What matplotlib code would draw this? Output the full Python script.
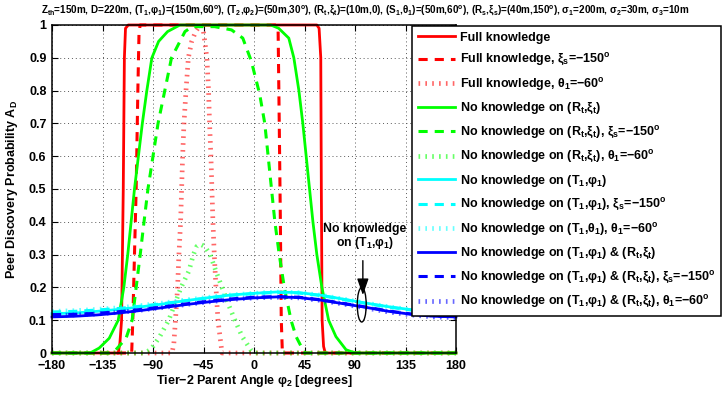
import matplotlib
matplotlib.use("Agg")
import matplotlib.pyplot as plt
from matplotlib.patches import Ellipse

plt.rcParams['font.family'] = ['Liberation Sans', 'DejaVu Sans']
plt.rcParams['font.weight'] = 'bold'
plt.rcParams['mathtext.fontset'] = 'custom'
plt.rcParams['mathtext.rm'] = 'Liberation Sans:bold'
plt.rcParams['mathtext.it'] = 'Liberation Sans:bold'
plt.rcParams['mathtext.bf'] = 'Liberation Sans:bold'
plt.rcParams['mathtext.sf'] = 'Liberation Sans:bold'
plt.rcParams['axes.unicode_minus'] = True

# ---------------- data ----------------
# Full knowledge
fk_x = [-180, -121, -119.5, -118, -116.5, -115.5, -114.5, -112, 56, 58, 59.5, 60, 60.7, 62, 63.5, 180]
fk_y = [0, 0, 0.03, 0.1, 0.5, 0.9, 0.99, 1, 1, 0.99, 0.9, 0.5, 0.1, 0.02, 0, 0]
# Full knowledge, xi_s = -150
fkx_x = [-180, -109, -108, -106.5, -105, -103.5, -102.5, -101.5, 19.5, 21.5, 22.5, 23.5, 24.3, 25.3, 180]
fkx_y = [0, 0, 0.1, 0.3, 0.5, 0.8, 0.97, 1, 1, 0.98, 0.7, 0.4, 0.1, 0, 0]
# Full knowledge, theta_1 = -60
fkt_x = [-180, -73, -71.4, -70, -68.1, -66.9, -65.4, -64.5, -63.6, -62.4, -60.6, -58.5, -55.5, -52,
         -48, -45, -42, -40.5, -39.6, -38.4, -37.5, -36.6, -35.4, -33.9, -32.1, -28.5, 180]
fkt_y = [0, 0, 0.03, 0.1, 0.2, 0.3, 0.4, 0.5, 0.6, 0.7, 0.8, 0.9, 0.95, 0.98,
         1.0, 0.98, 0.9, 0.8, 0.7, 0.6, 0.5, 0.4, 0.3, 0.2, 0.1, 0, 0]
# No knowledge on (Rt, xi_t)
nr_x = [-180, -146, -138, -129, -121, -116, -112.5, -109.5, -106.5, -103, -99.5, -95.5, -91, -85,
        -77, -66, 15, 22, 31, 35.5, 40, 43.5, 46.5, 49.5, 52.5, 56, 60.5, 66.5, 73, 82, 90, 180]
nr_y = [0, 0, 0.015, 0.045, 0.1, 0.2, 0.3, 0.4, 0.5, 0.6, 0.7, 0.8, 0.9, 0.95,
        0.98, 1.0, 1.0, 0.99, 0.96, 0.9, 0.8, 0.7, 0.6, 0.5, 0.4, 0.3, 0.2, 0.1, 0.05, 0.01, 0, 0]
# No knowledge on (Rt, xi_t), xi_s = -150
nrx_x = [-180, -129, -123, -114, -108.6, -105, -101.4, -98, -94.5, -90, -85.5, -79.5, -73.5, -67.5,
         -61.5, -55, -35, -20, -10, -2.4, 5, 9.6, 12.6, 15.6, 18.6, 22.5, 27, 33, 37.5, 45, 180]
nrx_y = [0, 0, 0.01, 0.045, 0.1, 0.2, 0.3, 0.4, 0.5, 0.6, 0.7, 0.8, 0.9, 0.94,
         0.98, 0.995, 0.995, 0.985, 0.96, 0.89, 0.79, 0.7, 0.6, 0.5, 0.4, 0.3, 0.2, 0.1, 0.05, 0, 0]
# No knowledge on (Rt, xi_t), theta_1 = -60
nrt_x = [-180, -98, -92, -84, -76, -65, -58, -54, -51, -48, -44, -39, -34, -28.5, -23, -17, -10.5, -3, 0, 180]
nrt_y = [0, 0, 0.01, 0.05, 0.1, 0.2, 0.25, 0.3, 0.325, 0.332, 0.325, 0.3, 0.25, 0.2, 0.15, 0.1, 0.05, 0.01, 0, 0]

# Low curves (no knowledge on T1, phi1 ...)
low_x = [-180, -160, -140, -120, -100, -80, -60, -40, -20, 0, 20, 40, 60, 80, 100, 120, 140, 160, 180]
nt_y = [0.120, 0.122, 0.127, 0.133, 0.141, 0.150, 0.160, 0.169, 0.177, 0.182, 0.186, 0.184, 0.176,
        0.164, 0.152, 0.141, 0.132, 0.125, 0.121]
ntx_y = [0.125, 0.127, 0.131, 0.136, 0.143, 0.151, 0.160, 0.168, 0.176, 0.181, 0.185, 0.183, 0.175,
         0.163, 0.151, 0.140, 0.131, 0.124, 0.120]
ntt_y = [0.127, 0.129, 0.133, 0.138, 0.145, 0.153, 0.162, 0.170, 0.177, 0.182, 0.186, 0.184, 0.176,
         0.164, 0.152, 0.141, 0.132, 0.125, 0.121]
nb_y = [0.110, 0.112, 0.116, 0.122, 0.130, 0.139, 0.148, 0.156, 0.163, 0.168, 0.171, 0.169, 0.161,
        0.150, 0.139, 0.127, 0.118, 0.112, 0.110]
nbx_y = [0.117, 0.118, 0.121, 0.126, 0.133, 0.141, 0.150, 0.158, 0.165, 0.170, 0.172, 0.170, 0.162,
         0.151, 0.140, 0.128, 0.119, 0.113, 0.111]
nbt_y = [0.114, 0.116, 0.119, 0.124, 0.131, 0.139, 0.148, 0.156, 0.163, 0.168, 0.170, 0.168, 0.160,
         0.149, 0.137, 0.125, 0.116, 0.110, 0.108]

labels = [
    'Full knowledge',
    'Full knowledge, ξ$_s$=−150$^o$',
    'Full knowledge, θ$_1$=−60$^o$',
    'No knowledge on (R$_t$,ξ$_t$)',
    'No knowledge on (R$_t$,ξ$_t$), ξ$_s$=−150$^o$',
    'No knowledge on (R$_t$,ξ$_t$), θ$_1$=−60$^o$',
    'No knowledge on (T$_1$,φ$_1$)',
    'No knowledge on (T$_1$,φ$_1$), ξ$_s$=−150$^o$',
    'No knowledge on (T$_1$,θ$_1$), θ$_1$=−60$^o$',
    'No knowledge on (T$_1$,φ$_1$) & (R$_t$,ξ$_t$)',
    'No knowledge on (T$_1$,φ$_1$) & (R$_t$,ξ$_t$), ξ$_s$=−150$^o$',
    'No knowledge on (T$_1$,φ$_1$) & (R$_t$,ξ$_t$), θ$_1$=−60$^o$',
]

title = ('Z$_{th}$=150m, D=220m, (T$_1$,φ$_1$)=(150m,60$^o$), (T$_2$,φ$_2$)=(50m,30$^o$), '
         '(R$_t$,ξ$_t$)=(10m,0), (S$_1$,θ$_1$)=(50m,60$^o$), (R$_s$,ξ$_s$)=(40m,150$^o$), '
         'σ$_1$=200m, σ$_2$=30m, σ$_3$=10m')

xticks = [-180, -135, -90, -45, 0, 45, 90, 135, 180]
xticklabels = ['−180', '−135', '−90', '−45', '0', '45', '90', '135', '180']
yticks = [0, 0.1, 0.2, 0.3, 0.4, 0.5, 0.6, 0.7, 0.8, 0.9, 1.0]
yticklabels = ['0', '0.1', '0.2', '0.3', '0.4', '0.5', '0.6', '0.7', '0.8', '0.9', '1']

# ---------------- figure ----------------
fig = plt.figure(figsize=(7.23, 3.94), dpi=100)
ax = fig.add_axes([52/723, 1-353/394, (456-52)/723, (353-25)/394])

series = [
    (fk_x, fk_y, 'red', 'solid'), (fkx_x, fkx_y, 'red', 'dash'), (fkt_x, fkt_y, 'red', 'dot'),
    (nr_x, nr_y, '#00ff00', 'solid'), (nrx_x, nrx_y, '#00ff00', 'dash'), (nrt_x, nrt_y, '#00ff00', 'dot'),
    (low_x, nt_y, 'cyan', 'solid'), (low_x, ntx_y, 'cyan', 'dash'), (low_x, ntt_y, 'cyan', 'dot'),
    (low_x, nb_y, 'blue', 'solid'), (low_x, nbx_y, 'blue', 'dash'), (low_x, nbt_y, 'blue', 'dot'),
]

handles = []
for (xs, ys, c, st), lab in zip(series, labels):
    if st == 'solid':
        h, = ax.plot(xs, ys, color=c, lw=2.0, clip_on=False, label=lab)
    elif st == 'dash':
        h, = ax.plot(xs, ys, color=c, lw=2.2, clip_on=False, label=lab, dashes=(3, 2.3),
                     dash_capstyle='butt')
    else:
        h, = ax.plot(xs, ys, color=c, lw=3.4, clip_on=False, label=lab, dashes=(0.35, 1.1),
                     dash_capstyle='butt', alpha=0.6)
    handles.append(h)

ax.set_xlim(-180, 180)
ax.set_ylim(0, 1)
ax.set_xticks(xticks)
ax.set_xticklabels(xticklabels)
ax.set_yticks(yticks)
ax.set_yticklabels(yticklabels)
ax.tick_params(direction='in', top=True, right=True, labelsize=9, length=4, width=0.8)
ax.tick_params(axis='x', pad=5)
ax.tick_params(axis='y', pad=4)
for lab in ax.get_xticklabels() + ax.get_yticklabels():
    lab.set_fontweight('bold')
ax.grid(True, color='0.35', linestyle=(0, (1, 3)), linewidth=0.7)
for s in ax.spines.values():
    s.set_linewidth(1.1)

ax.set_xlabel('Tier−2 Parent Angle φ$_2$ [degrees]', fontsize=9, fontweight='bold', labelpad=1)
ax.set_ylabel('Peer Discovery Probability A$_D$', fontsize=9, fontweight='bold', labelpad=6)

# title, sized to span the same width as the reference (about 650 px)
ttl = fig.text(365/723, 1-10/394, title, ha='center', va='center', fontsize=6.8, fontweight='bold')
fig.canvas.draw()
w = ttl.get_window_extent(fig.canvas.get_renderer()).width
ttl.set_fontsize(6.8 * 650.0 / w)

# annotation
ax.text(99, 0.355, 'No knowledge\non (T$_1$,φ$_1$)', ha='center', va='center', fontsize=8.8,
        fontweight='bold', linespacing=1.0)
ax.annotate('', xy=(97, 0.168), xytext=(97, 0.29),
            arrowprops=dict(arrowstyle='-|>,head_length=1.0,head_width=0.35', color='black', lw=1.0))
ax.add_patch(Ellipse((96, 0.147), 8.0, 0.105, fill=False, edgecolor='black', lw=1.0, zorder=5))

leg = fig.legend(handles=handles, labels=labels, loc='upper left',
                 bbox_to_anchor=(412/723, 1-26/394), bbox_transform=fig.transFigure,
                 fontsize=9, frameon=True, fancybox=False, framealpha=1, edgecolor='black',
                 handlelength=3.0, handletextpad=0.4, borderpad=0.45, labelspacing=0.6,
                 borderaxespad=0)
leg.get_frame().set_linewidth(1.1)
for t in leg.get_texts():
    t.set_fontweight('bold')

fig.savefig('out.png', dpi=100)
